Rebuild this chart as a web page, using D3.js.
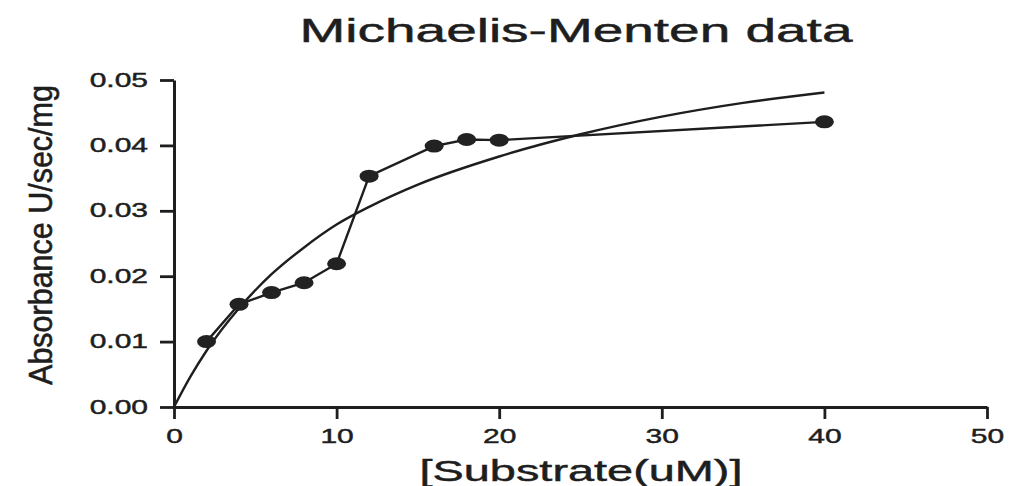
<!DOCTYPE html>
<html>
<head>
<meta charset="utf-8">
<script src="https://cdn.jsdelivr.net/npm/d3@7"></script>
<style>
  body { margin: 0; background: #fff; }
  svg { display: block; }
  text { font-family: "Liberation Sans", Arial, sans-serif; fill: #1e1e1e; stroke: #1e1e1e; stroke-width: 0.45px; }
</style>
</head>
<body>
<svg id="chart" width="1009" height="486"></svg>
<script>
// Measured initial velocities
const substrate = [2, 4, 6, 8, 10, 12, 16, 18, 20, 40];
const velocity  = [0.0100, 0.0157, 0.0175, 0.0190, 0.0219, 0.0353, 0.0399, 0.0409, 0.0408, 0.0436];

// Fitted Michaelis-Menten curve, sampled
const fitSubstrate = [0, 1, 2, 4, 6, 8, 10, 12, 15, 20, 25, 30, 35, 40];
const fitVelocity  = [0, 0.0046, 0.0086, 0.0151, 0.0203, 0.0244, 0.0279, 0.0306, 0.0340, 0.0383, 0.0417, 0.0444, 0.0465, 0.0481];

const xTicks = [0, 10, 20, 30, 40, 50];
const yTicks = [0, 0.01, 0.02, 0.03, 0.04, 0.05];

const titleText = "Michaelis-Menten data";
const xLabel = "[Substrate(uM)]";
const yLabel = "Absorbance U/sec/mg";

const svg = d3.select("#chart");
const ink = "#1e1e1e";
const stretch = 1.5;   // glyphs are drawn wide

const x = d3.scaleLinear().domain([0, 50]).range([174, 987]);
const y = d3.scaleLinear().domain([0, 0.05]).range([407, 80]);

// Axes
const xAxis = svg.append("g")
  .attr("transform", `translate(0,${y(0)})`)
  .call(d3.axisBottom(x).tickValues(xTicks).tickSize(12).tickSizeOuter(0).tickFormat(d3.format("d")));
const yAxis = svg.append("g")
  .attr("transform", `translate(${x(0)},0)`)
  .call(d3.axisLeft(y).tickValues(yTicks).tickSize(14).tickSizeOuter(0).tickFormat(d3.format(".2f")));

[xAxis, yAxis].forEach(g => {
  g.select(".domain").attr("stroke", ink).style("stroke-width", "3px");
  g.selectAll(".tick line").attr("stroke", ink).style("stroke-width", "2.8px");
  g.selectAll(".tick text")
    .style("font-family", '"Liberation Sans", Arial, sans-serif')
    .attr("font-size", 20)
    .attr("fill", ink);
});

xAxis.selectAll(".tick text")
  .attr("y", 36).attr("dy", 0)
  .attr("transform", `scale(${stretch},1)`);

yAxis.selectAll(".tick text")
  .attr("x", -26 / stretch).attr("dy", "0.3em")
  .attr("transform", `scale(${stretch},1)`);

// Fitted curve
const fitLine = d3.line()
  .x((d, i) => x(fitSubstrate[i]))
  .y(d => y(d))
  .curve(d3.curveMonotoneX);
svg.append("path")
  .datum(fitVelocity)
  .attr("d", fitLine)
  .attr("fill", "none")
  .attr("stroke", ink)
  .attr("stroke-width", 2.4);

// Data connected point to point
const dataLine = d3.line()
  .x((d, i) => x(substrate[i]))
  .y(d => y(d));
svg.append("path")
  .datum(velocity)
  .attr("d", dataLine)
  .attr("fill", "none")
  .attr("stroke", ink)
  .attr("stroke-width", 2.4);

svg.append("g").selectAll("ellipse")
  .data(velocity)
  .join("ellipse")
  .attr("cx", (d, i) => x(substrate[i]))
  .attr("cy", d => y(d))
  .attr("rx", 9.5)
  .attr("ry", 6.5)
  .attr("fill", "#222");

// Text stretched horizontally to a given width
function wideText(cx, baseline, size, width, str) {
  const t = svg.append("text")
    .attr("text-anchor", "middle")
    .attr("font-size", size)
    .text(str);
  const natural = t.node().getComputedTextLength();
  t.attr("transform", `translate(${cx},${baseline}) scale(${width / natural},1)`);
  return t;
}

wideText(576, 42, 33, 553, titleText);
wideText(581, 481, 29, 323, xLabel);

// Vertical label: long axis along the page height, glyphs widened across
const yl = svg.append("text")
  .attr("text-anchor", "middle")
  .attr("font-size", 26)
  .text(yLabel);
const yNatural = yl.node().getComputedTextLength();
yl.attr("transform", `translate(52,235) rotate(-90) scale(${300 / yNatural},1.3)`);
</script>
</body>
</html>
